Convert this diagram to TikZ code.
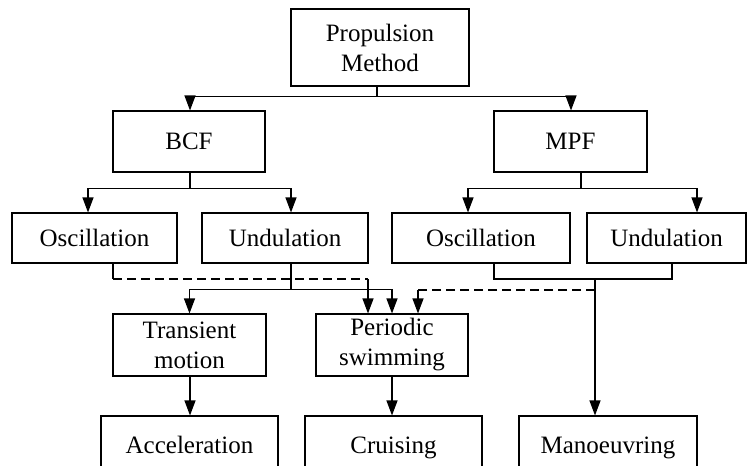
\documentclass[tikz,border=0pt]{standalone}
\usepackage{fontspec}
\setmainfont{Liberation Serif}
\usetikzlibrary{arrows.meta}
\begin{document}
\begin{tikzpicture}[x=1pt,y=-1pt,
  box/.style={draw,line width=1.1pt,inner sep=0pt,align=center,
    font=\fontsize{25}{30}\selectfont},
  oneline/.style={box,text height=18pt,text depth=2pt},
  link/.style={line width=1.1pt},
  arr/.style={link,-{Triangle[length=15pt,width=11pt]}},
  dsh/.style={link,dash pattern=on 9pt off 5pt}]
\useasboundingbox (0,0) rectangle (753,466);
\clip (0,0) rectangle (753,466);

% top levels
\node[box,minimum width=178pt,minimum height=77pt] (prop) at (380,47.5) {Propulsion\\Method};
\node[oneline,minimum width=152pt,minimum height=61pt] (bcf) at (189,141.5) {BCF};
\node[oneline,minimum width=153pt,minimum height=61pt] (mpf) at (570.5,141.5) {MPF};

% swimming modes
\node[oneline,minimum width=165pt,minimum height=50pt] (osca) at (94.5,238) {Oscillation};
\node[oneline,minimum width=166pt,minimum height=50pt] (unda) at (285,238) {Undulation};
\node[oneline,minimum width=178pt,minimum height=50pt] (oscb) at (481,238) {Oscillation};
\node[oneline,minimum width=159pt,minimum height=50pt] (undb) at (666.5,238) {Undulation};

% motion types
\node[box,minimum width=153pt,minimum height=62pt] (trans) at (189.5,345) {Transient\\motion};
\node[box,minimum width=152pt,minimum height=62pt] (per) at (392,345) {Periodic\\swimming};

% behaviours
\node[oneline,minimum width=177pt,minimum height=58pt] (acc) at (189.5,445) {Acceleration};
\node[oneline,minimum width=177pt,minimum height=58pt] (cru) at (393.5,445) {Cruising};
\node[oneline,minimum width=178pt,minimum height=58pt] (man) at (608,445) {Manoeuvring};

% propulsion method -> BCF / MPF
\draw[arr] ([xshift=-3pt]prop.south) -- ++(0,10) -| ([xshift=1pt]bcf.north);
\draw[arr] ([xshift=-3pt]prop.south) -- ++(0,10) -| ([xshift=0.5pt]mpf.north);

% BCF -> oscillation / undulation
\draw[arr] ([xshift=1pt]bcf.south) -- ++(0,16) -| ([xshift=-6.5pt]osca.north);
\draw[arr] ([xshift=1pt]bcf.south) -- ++(0,16) -| ([xshift=6pt]unda.north);

% MPF -> oscillation / undulation
\draw[arr] ([xshift=10.5pt]mpf.south) -- ++(0,16) -| ([xshift=-13pt]oscb.north);
\draw[arr] ([xshift=10.5pt]mpf.south) -- ++(0,16) -| ([xshift=30.5pt]undb.north);

% BCF oscillation -> periodic swimming (dashed)
\coordinate (oa) at ([xshift=18.5pt]osca.south |- 0,279);
\coordinate (ob) at ([xshift=-24pt]per.north |- 0,279);
\draw[link] ([xshift=18.5pt]osca.south) -- (oa);
\draw[dsh] (oa) -- (ob);
\draw[arr] (ob) -- ([xshift=-24pt]per.north);

% BCF undulation -> transient motion / periodic swimming
\draw[arr] ([xshift=6pt]unda.south) -- ++(0,26) -| (trans.north);
\draw[arr] ([xshift=6pt]unda.south) -- ++(0,26) -| (per.north);

% MPF oscillation + undulation -> manoeuvring
\coordinate (mj) at ([xshift=-13pt]man.north |- 0,279);
\draw[link] ([xshift=13pt]oscb.south) |- (mj) -| ([xshift=5.5pt]undb.south);
\draw[arr] (mj) -- ([xshift=-13pt]man.north);

% MPF branch -> periodic swimming (dashed)
\coordinate (mb) at ([xshift=-13pt]man.north |- 0,290);
\coordinate (pb) at ([xshift=26pt]per.north |- 0,290);
\draw[dsh] (mb) -- (pb);
\draw[arr] (pb) -- ([xshift=26pt]per.north);

% motion types -> behaviours
\draw[arr] ([xshift=0.5pt]trans.south) -- ([xshift=0.5pt]trans.south |- acc.north);
\draw[arr] (per.south) -- (per.south |- cru.north);
\end{tikzpicture}
\end{document}
